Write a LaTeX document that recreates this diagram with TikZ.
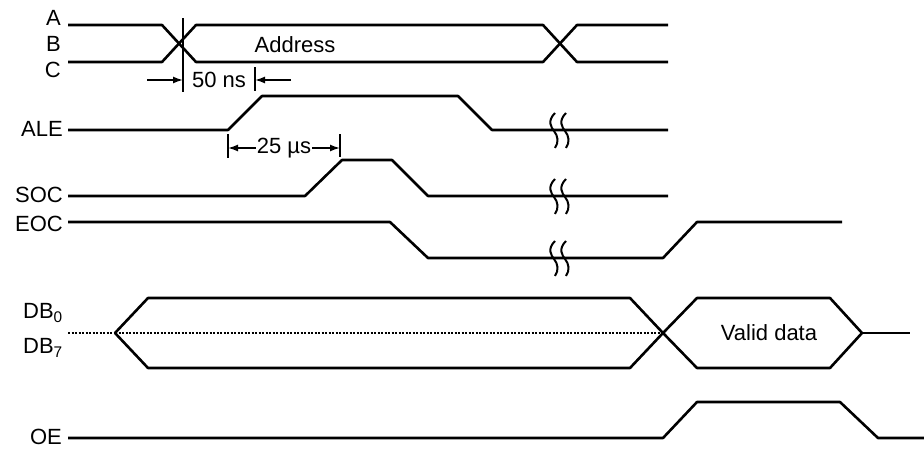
\documentclass[tikz,border=0pt]{standalone}
\usepackage{fontspec}
\setmainfont{Liberation Sans}
\usetikzlibrary{arrows.meta}
\begin{document}
\begin{tikzpicture}[x=1pt,y=-1pt,
  sig/.style={line width=2.6pt, line join=round},
  dotsig/.style={line width=1.6pt, dash pattern=on 2pt off 1.5pt},
  tickline/.style={line width=1.6pt},
  dimarrow/.style={line width=1.6pt, -{Latex[length=10pt,width=7pt]}},
  lbl/.style={font=\fontsize{22}{26}\selectfont, inner sep=0pt},
  brk/.pic={
    \draw[line width=2pt] (-5,-17) .. controls (-13,-9) and (-9,-3) .. (-6,1) .. controls (-2,6) and (-1,12) .. (-5,18);
    \draw[line width=2pt] (6,-17) .. controls (-2,-9) and (2,-3) .. (5,1) .. controls (9,6) and (10,12) .. (6,18);
  }]
\useasboundingbox (0,0) rectangle (924,450);

% labels
\node[lbl,anchor=east] (lA) at (61,18) {A};
\node[lbl,anchor=east] (lB) at (61,44) {B};
\node[lbl,anchor=east] (lC) at (61,70) {C};
\node[lbl,anchor=east] (lALE) at (63,129) {ALE};
\node[lbl,anchor=east] (lSOC) at (63,195) {SOC};
\node[lbl,anchor=east] (lEOC) at (63,224) {EOC};
\node[lbl,anchor=east] (lDB0) at (63,313) {DB\textsubscript{0}};
\node[lbl,anchor=east] (lDB7) at (63,348) {DB\textsubscript{7}};
\node[lbl,anchor=east] (lOE) at (62,437) {OE};

% address bus
\draw[sig] (68,25) -- (162,25) -- (196,62) -- (543,62) -- (577,25) -- (668,25);
\draw[sig] (68,62) -- (162,62) -- (196,25) -- (543,25) -- (577,62) -- (668,62);
\node[lbl] (addr) at (295,45) {Address};

% 50 ns
\coordinate (m1t) at (183,18);
\coordinate (m1b) at (183,92);
\coordinate (m2t) at (255,67);
\coordinate (m2b) at (255,91);
\draw[tickline] (m1t) -- (m1b);
\draw[tickline] (m2t) -- (m2b);
\coordinate (a1s) at (147,80);
\coordinate (a1e) at (183,80);
\coordinate (a2s) at (291,80);
\coordinate (a2e) at (255,80);
\draw[dimarrow] (a1s) -- (a1e);
\draw[dimarrow] (a2s) -- (a2e);
\node[lbl] (t50) at (219,80) {50 ns};

% ALE
\draw[sig] (68,130) -- (228,130) -- (262,96) -- (458,96) -- (492,130) -- (668,130);
\pic at (560,130) {brk};

% 25 us
\coordinate (m3t) at (228,134);
\coordinate (m3b) at (228,158);
\coordinate (m4t) at (340,134);
\coordinate (m4b) at (340,157);
\draw[tickline] (m3t) -- (m3b);
\draw[tickline] (m4t) -- (m4b);
\node[lbl] (t25) at (284,148) {25 µs};
\draw[dimarrow] (t25.west) ++(-1,0) coordinate (b1s) -- (m3t |- b1s);
\draw[dimarrow] (t25.east) ++(1,0) coordinate (b2s) -- (m4t |- b2s);

% SOC
\draw[sig] (68,196) -- (305,196) -- (342,160) -- (392,160) -- (428,196) -- (668,196);
\pic at (560,196) {brk};

% EOC
\draw[sig] (68,222) -- (390,222) -- (428,258) -- (663,258) -- (697,222) -- (842,222);
\pic at (560,258) {brk};

% data bus
\draw[dotsig] (68,333) -- (115,333);
\draw[dotsig] (115,333) -- (663,333);
\draw[sig] (663,333) -- (630,298) -- (148,298) -- (115,333) -- (148,368) -- (630,368) -- (663,333);
\draw[sig] (663,333) -- (697,298) -- (830,298) -- (862,333) -- (830,368) -- (697,368) -- cycle;
\draw[sig] (862,333) -- (910,333);
\node[lbl] (valid) at (769,333) {Valid data};

% OE
\draw[sig] (68,438) -- (663,438) -- (697,402) -- (840,402) -- (878,438) -- (924,438);
\end{tikzpicture}
\end{document}
